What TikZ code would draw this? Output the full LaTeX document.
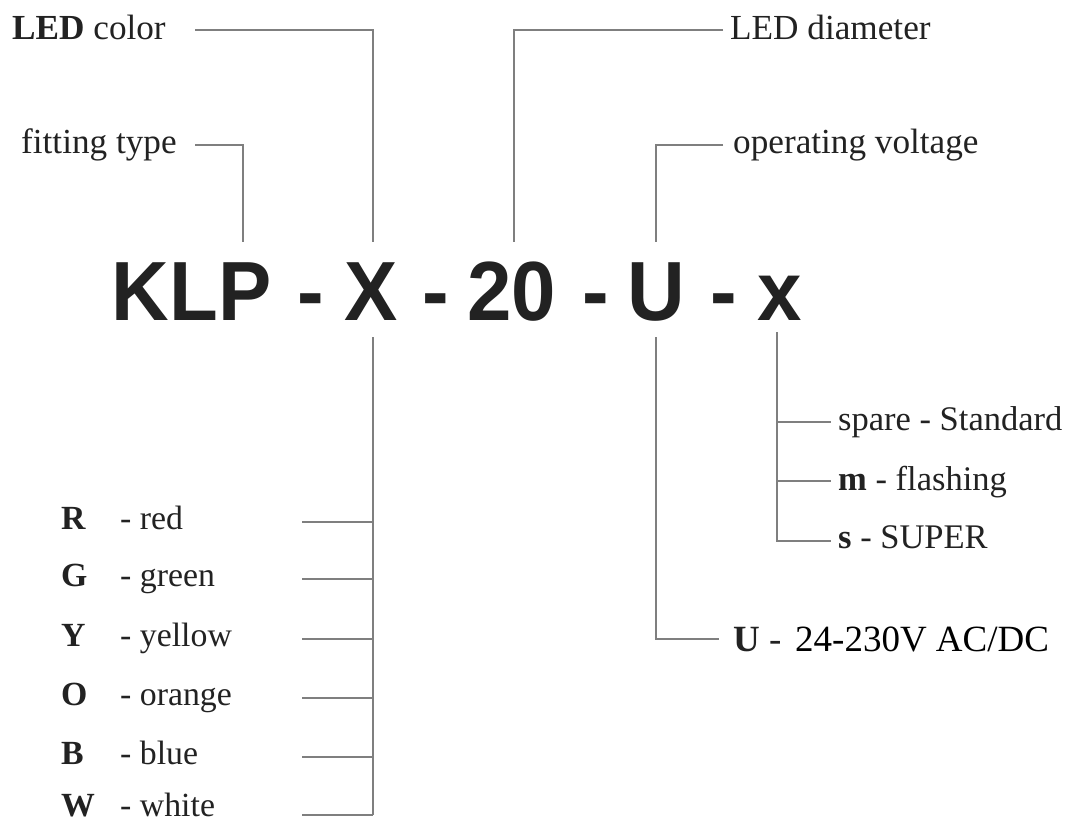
\documentclass[tikz,border=0pt]{standalone}
\usepackage{fontspec}
\setmainfont{Liberation Serif}
\newfontfamily\bigsans{Liberation Sans}
\definecolor{txt}{HTML}{222222}
\definecolor{ln}{HTML}{7F7F7F}
\newcommand{\cond}[1]{\scalebox{0.95}[1]{#1}}
\begin{document}
\begin{tikzpicture}[x=1pt,y=-1pt,
  conn/.style={draw=ln, line width=1.3pt},
  lbl/.style={anchor=base west, inner sep=0pt, text=txt, font=\fontsize{34.5}{40}\selectfont},
  lbltop/.style={anchor=base west, inner sep=0pt, text=txt, font=\fontsize{35.2}{40}\selectfont},
  lblleft/.style={anchor=base west, inner sep=0pt, text=txt, font=\fontsize{33.8}{40}\selectfont},
  lblbig/.style={anchor=base west, inner sep=0pt, text=txt, font=\fontsize{37}{42}\selectfont},
  code/.style={anchor=base, inner sep=0pt, text=txt, font=\bigsans\bfseries\fontsize{84}{90}\selectfont}]
\useasboundingbox (0,0) rectangle (1066,823);
\fill[white] (0,0) rectangle (1066,823);

% code
\node[code] (klp) at (191.5,320) {\cond{KLP}};
\node[code] (d1) at (311,320) {\cond{-}};
\node[code] (cX) at (371,320) {\cond{X}};
\node[code] (d2) at (435.5,320) {\cond{-}};
\node[code] (c20) at (512,320) {\cond{20}};
\node[code] (d3) at (595.5,320) {\cond{-}};
\node[code] (cU) at (656.5,320) {\cond{U}};
\node[code] (d4) at (723.5,320) {\cond{-}};
\node[code] (cx) at (779.5,320) {\cond{x}};

% top labels
\node[lbltop] (tled) at (12,39) {\textbf{LED} color};
\node[lbltop] (tfit) at (21,153) {fitting type};
\node[lbltop] (tdia) at (730,39) {LED diameter};
\node[lbltop] (tvolt) at (733,153) {operating voltage};

% top connectors
\coordinate (ftA) at (195,145); \coordinate (ftB) at (243,242);
\coordinate (lcA) at (195,30);  \coordinate (lcB) at (373,242);
\coordinate (ldA) at (723,30);  \coordinate (ldB) at (514,242);
\coordinate (ovA) at (723,145); \coordinate (ovB) at (656,242);
\draw[conn] (ftA) -| (ftB);
\draw[conn] (lcA) -| (lcB);
\draw[conn] (ldA) -| (ldB);
\draw[conn] (ovA) -| (ovB);

% colour list
\coordinate (xTop) at (373,337);
\coordinate (xBot) at (373,815);
\draw[conn] (xTop) -- (xBot);
\foreach \n/\L/\T/\y/\b in {r/R/red/522/529, g/G/green/579/586, y/Y/yellow/639/646, o/O/orange/698/705, b/B/blue/757/764, w/W/white/815/816}{
  \node[lblleft] (k\n) at (61,\b) {\textbf{\L}};
  \node[lblleft] (t\n) at (120,\b) {- \T};
  \coordinate (e\n) at (302,\y);
  \coordinate (j\n) at (373,\y);
  \draw[conn] (e\n) -- (j\n);
}

% voltage
\coordinate (uTop) at (656,337);
\coordinate (uCorner) at (656,639);
\coordinate (uEnd) at (719,639);
\draw[conn] (uTop) -- (uCorner) -- (uEnd);
\node[lblbig] (tu) at (733,651) {\textbf{U} -};
\node[lblbig, text=black] (tuv) at (795,651) {24-230V AC/DC};

% options
\coordinate (sTop) at (777,332);
\coordinate (sCorner) at (777,541);
\coordinate (sEnd) at (831,541);
\draw[conn] (sTop) -- (sCorner) -- (sEnd);
\coordinate (s1) at (777,422); \coordinate (s1e) at (831,422);
\coordinate (s2) at (777,481); \coordinate (s2e) at (831,481);
\draw[conn] (s1) -- (s1e);
\draw[conn] (s2) -- (s2e);
\node[lbl] (tsp) at (838,430) {spare - Standard};
\node[lbl] (tm) at (838,490) {\textbf{m} - flashing};
\node[lbl] (ts) at (838,548) {\textbf{s} - SUPER};
\end{tikzpicture}
\end{document}
